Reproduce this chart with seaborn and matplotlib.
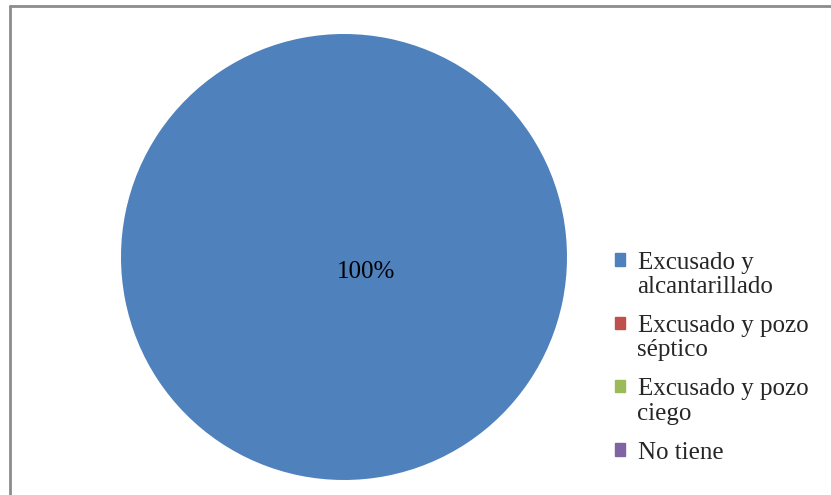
import matplotlib
matplotlib.use("Agg")
import matplotlib.pyplot as plt
from matplotlib.lines import Line2D
from matplotlib.patches import Rectangle
from matplotlib.legend_handler import HandlerPatch
import seaborn as sns

# data
categories = ["Excusado y\nalcantarillado", "Excusado y pozo\nséptico",
              "Excusado y pozo\nciego", "No tiene"]
values = [100, 0, 0, 0]
colors = ["#4F81BD", "#C0504D", "#9BBB59", "#8064A2"]

sns.set_theme(style="white")
plt.rcParams["font.family"] = ["Liberation Serif", "DejaVu Serif"]

FS = 18
LS = 1.13

fig = plt.figure(figsize=(8.31, 4.95), dpi=100)
ax = fig.add_axes([121 / 831, 15 / 495, 446 / 831, 446 / 495])

wedges, texts, autotexts = ax.pie(
    values,
    colors=colors,
    startangle=146,
    autopct=lambda p: f"{p:.0f}%" if p > 0 else "",
    pctdistance=0.12,
    textprops={"fontsize": FS, "color": "black"},
    wedgeprops={"linewidth": 0},
)
ax.set_xlim(-1, 1)
ax.set_ylim(-1, 1)


# square handles aligned with the first line of a wrapped label
def top_square(shift):
    def make(legend, orig_handle, xdescent, ydescent, width, height, fontsize):
        return Rectangle((-xdescent, -ydescent + shift), width, height)
    return HandlerPatch(patch_func=make)


handles = [Rectangle((0, 0), 1, 1, color=c) for c in colors]
hmap = {
    h: top_square(0.53 * FS * LS if "\n" in lab else 0)
    for h, lab in zip(handles, categories)
}
leg = fig.legend(
    handles, categories,
    loc="upper left",
    bbox_to_anchor=(605 / 831, 1 - 242 / 495),
    frameon=False,
    fontsize=FS,
    handlelength=0.4,
    handleheight=0.4,
    handletextpad=0.5,
    labelspacing=0.68,
    borderaxespad=0,
    handler_map=hmap,
)
for t in leg.get_texts():
    t.set_linespacing(LS)

# outer chart frame (left and top edges)
fig.add_artist(Line2D([9.5 / 831, 9.5 / 831], [0, 1 - 6 / 495], color="#8c8c8c", lw=2))
fig.add_artist(Line2D([9.5 / 831, 1], [1 - 6 / 495, 1 - 6 / 495], color="#8c8c8c", lw=2))

fig.savefig("out.png", dpi=100)
